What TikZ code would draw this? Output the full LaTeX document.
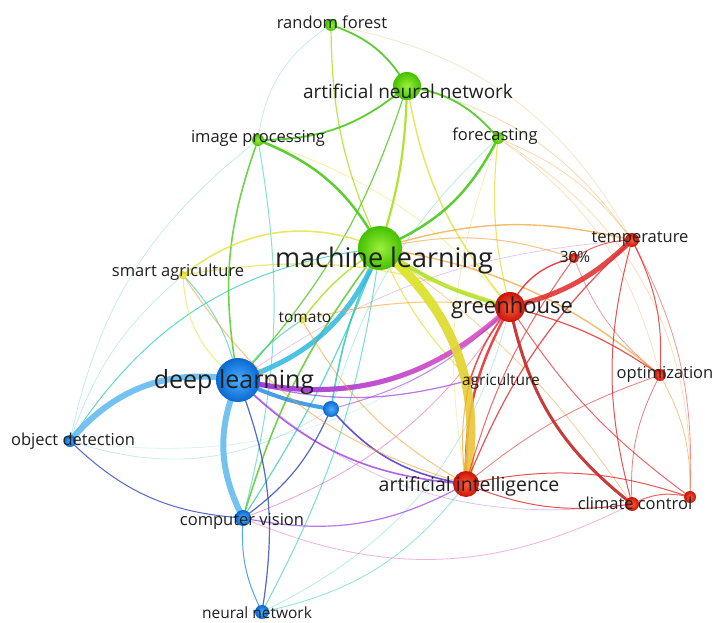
\documentclass[tikz,border=0pt]{standalone}
\usepackage{fontspec}
\setmainfont{Open Sans}
\usetikzlibrary{fadings}
\pgfdeclarelayer{links}
\pgfsetlayers{links,main}

% node colours
\definecolor{gLt}{HTML}{9CF03C}\definecolor{gDk}{HTML}{44C000}
\definecolor{bLt}{HTML}{4AB0FF}\definecolor{bDk}{HTML}{0A68D0}
\definecolor{rLt}{HTML}{FF5A3A}\definecolor{rDk}{HTML}{C81408}
\definecolor{yLt}{HTML}{F8F060}\definecolor{yDk}{HTML}{D8D010}
\definecolor{oLt}{HTML}{FFB850}\definecolor{oDk}{HTML}{E88010}
% link colours
\definecolor{eG}{HTML}{4CC81E}\definecolor{eL}{HTML}{A8E01C}
\definecolor{eY}{HTML}{E6E03A}\definecolor{eO}{HTML}{F0A030}
\definecolor{eR}{HTML}{E02828}\definecolor{eDR}{HTML}{C01818}
\definecolor{eP}{HTML}{E040B0}\definecolor{eV}{HTML}{9A3CE0}
\definecolor{eDB}{HTML}{2844B8}\definecolor{eB}{HTML}{2A8EE0}
\definecolor{eLB}{HTML}{5CB8F0}\definecolor{eT}{HTML}{22C8B4}
\definecolor{eC}{HTML}{30B8E0}\definecolor{eM}{HTML}{C848D0}
\definecolor{eI}{HTML}{5030C8}\definecolor{eYO}{HTML}{F0B838}
\definecolor{eYL}{HTML}{D8EC30}

\tikzset{
  x=1pt,y=-1pt,
  dot/.style n args={3}{circle,inner sep=0pt,minimum size=#1,inner color=#2,outer color=#3},
  lab/.style={text=black!88,inner sep=0pt,font=\fontsize{#1}{#1}\selectfont},
  link/.style={line cap=round},
}
% \lnk{from}{to}{bend}{colour}{width}{opacity}
\newcommand\lnk[6]{\draw[link,draw=#4,line width=#5pt,draw opacity=#6] (#1.center) to[bend right=#3] (#2.center);}

\begin{document}
\begin{tikzpicture}
\useasboundingbox (0,0) rectangle (715,623);

% ---- items ----
\node[dot={12pt}{gLt}{gDk}] (rf) at (331,25) {};
\node[dot={28pt}{gLt}{gDk}] (ann) at (407,86) {};
\node[dot={12pt}{gLt}{gDk}] (ip) at (258,140) {};
\node[dot={12pt}{gLt}{gDk}] (fc) at (498,138) {};
\node[dot={44pt}{gLt}{gDk}] (ml) at (380,248) {};
\node[dot={8pt}{yLt}{yDk}] (sa) at (183,275) {};
\node[dot={7pt}{yLt}{yDk}] (tom) at (302,320) {};
\node[dot={14pt}{rLt}{rDk}] (temp) at (632,240) {};
\node[dot={10pt}{rLt}{rDk}] (p30) at (574,258) {};
\node[dot={30pt}{rLt}{rDk}] (gh) at (510,307) {};
\node[dot={44pt}{bLt}{bDk}] (dl) at (238,380) {};
\node[dot={16pt}{bLt}{bDk}] (bn) at (331,409) {};
\node[dot={8pt}{oLt}{oDk}] (agr) at (470,380) {};
\node[dot={12pt}{rLt}{rDk}] (opt) at (660,375) {};
\node[dot={12pt}{bLt}{bDk}] (od) at (70,441) {};
\node[dot={26pt}{rLt}{rDk}] (ai) at (466,484) {};
\node[dot={14pt}{rLt}{rDk}] (cc) at (632,504) {};
\node[dot={12pt}{rLt}{rDk}] (cc2) at (690,497) {};
\node[dot={16pt}{bLt}{bDk}] (cv) at (243,518) {};
\node[dot={14pt}{bLt}{bDk}] (nn) at (262,612) {};

% ---- links ----
\begin{pgfonlayer}{links}
\fill[white] (0,0) rectangle (715,623);
% faint long arcs
\lnk{rf}{temp}{-25}{eO}{0.7}{0.3}
\lnk{rf}{ip}{25}{eT}{0.7}{0.3}
\lnk{ann}{temp}{-20}{eO}{0.8}{0.4}
\lnk{fc}{cc2}{-30}{eO}{0.8}{0.35}
\lnk{fc}{opt}{-20}{eO}{0.7}{0.35}
\lnk{ip}{od}{20}{eT}{0.7}{0.3}
\lnk{sa}{od}{15}{eT}{0.7}{0.3}
\lnk{od}{bn}{25}{eLB}{0.7}{0.35}
\lnk{od}{gh}{25}{eLB}{0.6}{0.25}
\lnk{nn}{gh}{25}{eT}{0.7}{0.35}
\lnk{temp}{cc2}{-15}{eR}{0.8}{0.5}
\lnk{dl}{cc}{25}{eV}{0.7}{0.35}
\lnk{cv}{cc}{25}{eP}{0.8}{0.4}
\lnk{dl}{temp}{-15}{eV}{0.7}{0.3}
\lnk{ip}{gh}{-15}{eY}{0.8}{0.45}
\lnk{ip}{cv}{-12}{eT}{1}{0.55}
\lnk{ml}{cc}{-10}{eO}{0.8}{0.5}
\lnk{p30}{opt}{15}{eR}{0.7}{0.5}
\lnk{fc}{ai}{15}{eY}{0.8}{0.4}
\lnk{fc}{bn}{15}{eT}{0.7}{0.35}
% green cluster
\lnk{rf}{ann}{-20}{eG}{1.8}{0.9}
\lnk{rf}{ml}{12}{eL}{1.2}{0.8}
\lnk{ann}{ip}{-20}{eG}{1.8}{0.9}
\lnk{ann}{fc}{-20}{eG}{1.8}{0.9}
\lnk{ann}{ml}{-8}{eL}{2.2}{0.9}
\lnk{ann}{dl}{-12}{eG}{1.2}{0.8}
\lnk{ann}{gh}{15}{eY}{1.5}{0.8}
\lnk{ip}{ml}{-20}{eG}{2.5}{0.9}
\lnk{ip}{dl}{15}{eG}{1.6}{0.8}
\lnk{fc}{ml}{-20}{eG}{2.5}{0.9}
\lnk{fc}{gh}{10}{eY}{1.2}{0.75}
\lnk{fc}{temp}{-15}{eO}{0.8}{0.4}
% machine learning
\lnk{ml}{gh}{10}{eL}{4}{0.85}
\lnk{sa}{ml}{-30}{eY}{1.5}{0.8}
\lnk{ml}{tom}{10}{eL}{1.5}{0.8}
\lnk{ml}{cv}{10}{eG}{1.6}{0.8}
\lnk{ml}{cv}{-6}{eT}{1.2}{0.7}
\lnk{ml}{bn}{8}{eT}{1.6}{0.8}
\lnk{od}{ml}{-25}{eT}{1}{0.7}
\lnk{ml}{nn}{-10}{eT}{1}{0.6}
\lnk{ml}{temp}{-15}{eO}{1.4}{0.7}
\lnk{ml}{opt}{-15}{eO}{1.4}{0.7}
\lnk{ml}{agr}{10}{eY}{1.2}{0.7}
\lnk{ml}{p30}{-15}{eO}{1}{0.6}
% deep learning
\lnk{dl}{od}{30}{eLB}{6}{0.85}
\lnk{dl}{cv}{25}{eLB}{6}{0.85}
\lnk{dl}{nn}{-15}{eDB}{1.2}{0.8}
\lnk{dl}{bn}{8}{eB}{4}{0.85}
\lnk{dl}{ai}{20}{eV}{1.6}{0.8}
\lnk{dl}{sa}{15}{eT}{1}{0.6}
\lnk{sa}{dl}{25}{eY}{1}{0.6}
\lnk{dl}{tom}{-10}{eT}{1.2}{0.6}
\lnk{dl}{agr}{15}{eV}{1.2}{0.7}
\lnk{dl}{gh}{28}{eP}{5}{0.8}
\draw[link,draw=eV,line width=5pt,path fading=east] (dl.center) to[bend right=28] (gh.center);
\lnk{dl}{ml}{25}{eC}{5}{0.85}
% object detection / computer vision / neural network
\lnk{od}{cv}{20}{eDB}{1}{0.8}
\lnk{cv}{nn}{15}{eB}{1}{0.8}
\lnk{cv}{bn}{15}{eDB}{1.2}{0.8}
\lnk{cv}{ai}{20}{eV}{1.2}{0.7}
\lnk{cv}{gh}{18}{eP}{0.8}{0.5}
\lnk{bn}{ai}{20}{eI}{1.6}{0.85}
\lnk{bn}{gh}{15}{eV}{1}{0.6}
\lnk{nn}{ai}{20}{eT}{0.8}{0.5}
% greenhouse
\lnk{gh}{temp}{15}{eR}{5}{0.85}
\lnk{gh}{p30}{-25}{eR}{1.4}{0.85}
\lnk{gh}{ai}{15}{eR}{2.5}{0.85}
\lnk{gh}{agr}{10}{eR}{1.5}{0.8}
\lnk{gh}{cc}{20}{eDR}{3}{0.85}
\lnk{gh}{opt}{-10}{eR}{1.2}{0.8}
\lnk{gh}{cc2}{10}{eR}{1}{0.7}
\lnk{sa}{gh}{-15}{eY}{1.2}{0.7}
\lnk{tom}{gh}{-10}{eO}{1}{0.6}
% artificial intelligence
\lnk{ml}{ai}{-30}{eYO}{9}{0.85}
\draw[link,draw=eYL,line width=9pt,path fading=south] (ml.center) to[bend left=30] (ai.center);
\lnk{ai}{cc2}{-15}{eR}{1}{0.8}
\lnk{ai}{cc}{15}{eR}{1}{0.8}
\lnk{ai}{temp}{-12}{eR}{1.2}{0.8}
\lnk{ai}{opt}{-10}{eR}{0.8}{0.6}
\lnk{p30}{ai}{10}{eR}{1}{0.7}
\lnk{agr}{ai}{10}{eO}{1}{0.7}
\lnk{sa}{ai}{20}{eO}{1}{0.6}
\lnk{tom}{ai}{15}{eO}{1}{0.6}
% red cluster
\lnk{temp}{opt}{-15}{eR}{1}{0.8}
\lnk{temp}{cc}{15}{eR}{1}{0.8}
\lnk{opt}{cc2}{-15}{eO}{0.8}{0.6}
\lnk{opt}{cc}{15}{eR}{0.8}{0.6}
\lnk{p30}{temp}{-15}{eR}{1}{0.7}
\lnk{cc}{cc2}{-20}{eR}{1}{0.7}
\end{pgfonlayer}

% ---- labels ----
\node[lab=16.5] (rf-t) at (332,22) {random forest};
\node[lab=19] (ann-t) at (408,91) {artificial neural network};
\node[lab=16.5] (ip-t) at (258,138) {image processing};
\node[lab=16.5] (fc-t) at (495,136) {forecasting};
\node[lab=27] (ml-t) at (384,260) {machine learning};
\node[lab=16.5] (sa-t) at (178,272) {smart agriculture};
\node[lab=16.5] (temp-t) at (640,239) {temperature};
\node[lab=15.5] (p30-t) at (575,257) {30\%};
\node[lab=22] (gh-t) at (512,308) {greenhouse};
\node[lab=15.5] (tom-t) at (305,317) {tomato};
\node[lab=25] (dl-t) at (234,382) {deep learning};
\node[lab=15.5] (agr-t) at (501,381) {agriculture};
\node[lab=16.5] (opt-t) at (665,374) {optimization};
\node[lab=16.5] (od-t) at (73,441) {object detection};
\node[lab=19.5] (ai-t) at (469,486) {artificial intelligence};
\node[lab=16.5] (cc-t) at (635,503) {climate control};
\node[lab=16.5] (cv-t) at (242,521) {computer vision};
\node[lab=15.5] (nn-t) at (257,613) {neural network};
\end{tikzpicture}
\end{document}
